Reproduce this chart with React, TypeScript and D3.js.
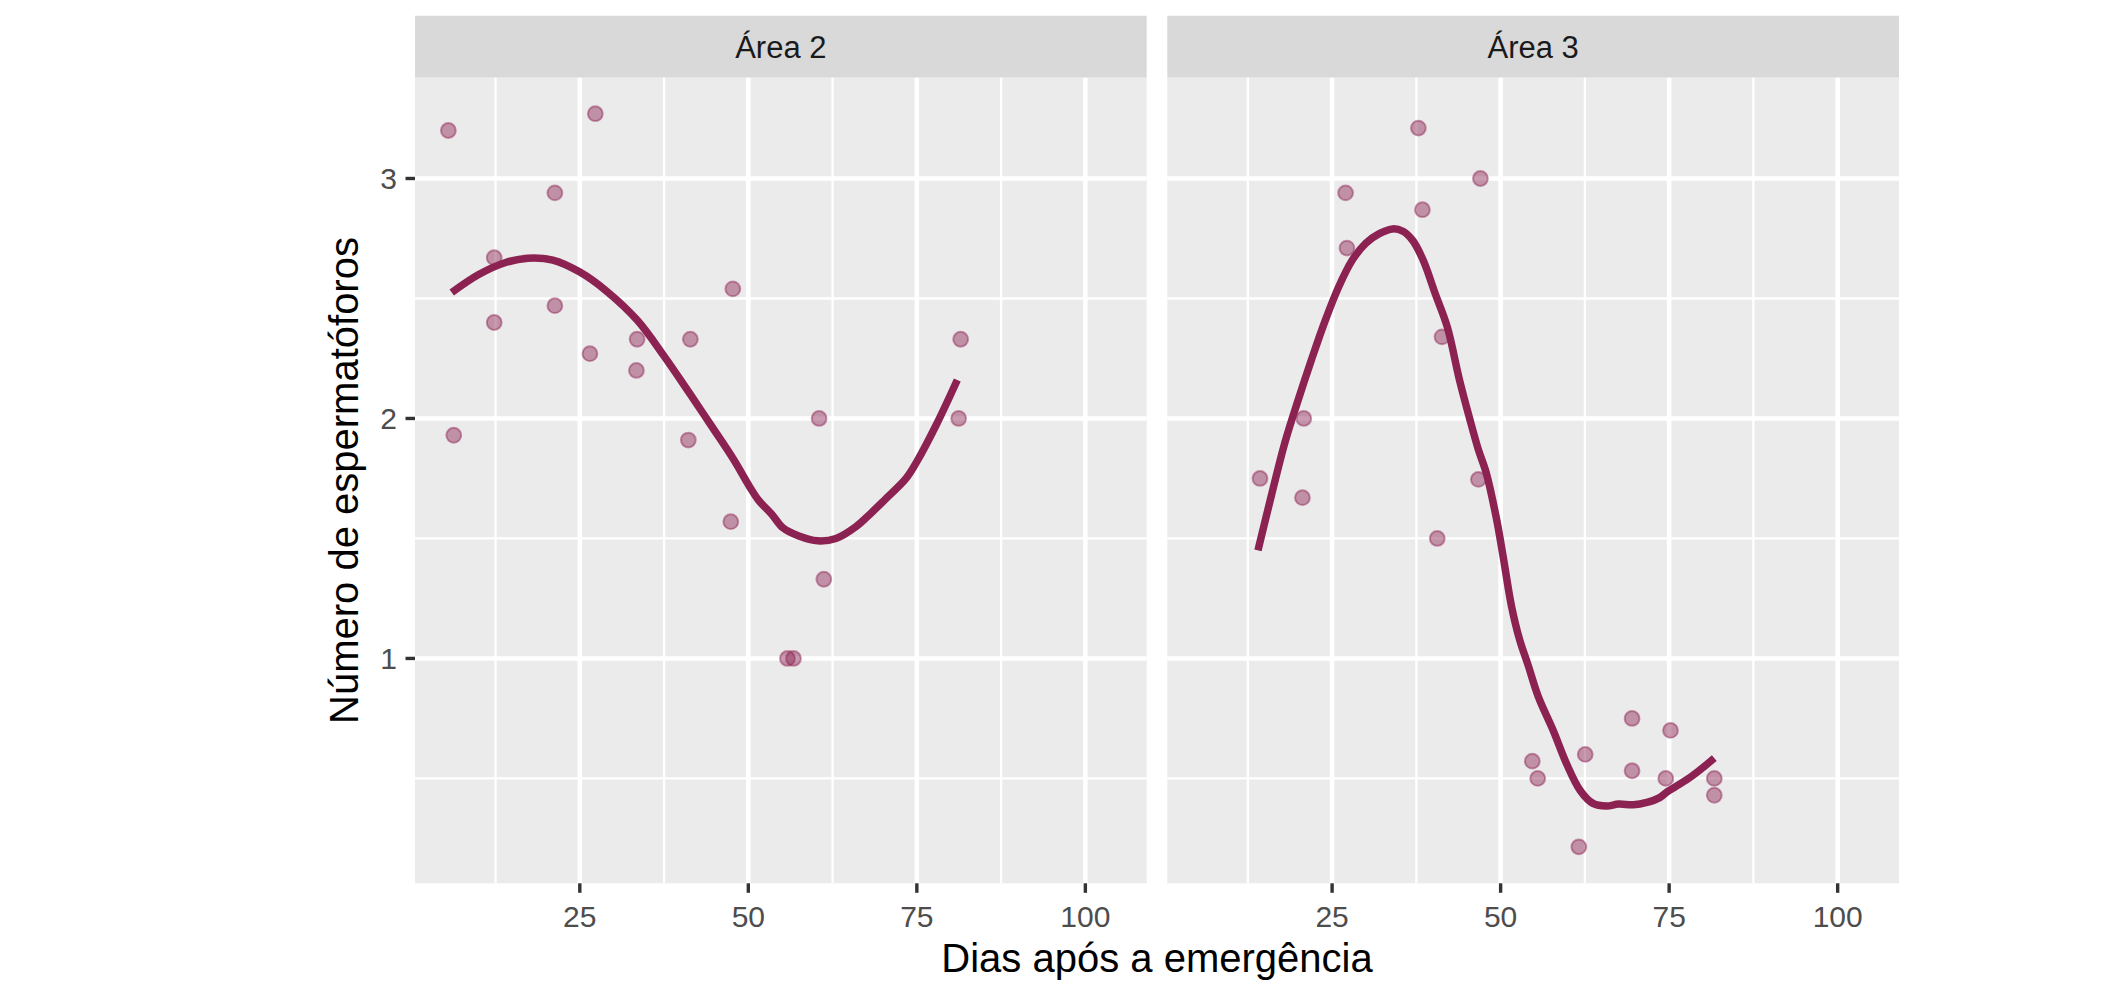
import React from 'react';
import * as d3 from 'd3';

// ---- data ----
const panelNames = ['Área 2', 'Área 3'];

const area2X = [5.5, 6.3, 12.3, 12.3, 21.3, 21.3, 27.3, 26.5, 33.5, 33.4, 41.4, 41.1, 47.7, 47.4, 55.8, 56.7, 60.5, 61.2, 81.5, 81.2];
const area2Y = [3.2, 1.93, 2.67, 2.4, 2.94, 2.47, 3.27, 2.27, 2.33, 2.2, 2.33, 1.91, 2.54, 1.57, 1.0, 1.0, 2.0, 1.33, 2.33, 2.0];

const area3X = [14.3, 20.8, 20.6, 27.0, 27.2, 37.8, 38.4, 47.0, 41.3, 40.6, 46.7, 54.7, 55.5, 62.55, 61.6, 69.5, 69.5, 75.2, 74.5, 81.7, 81.7];
const area3Y = [1.75, 2.0, 1.67, 2.94, 2.71, 3.21, 2.87, 3.0, 2.34, 1.5, 1.746, 0.572, 0.5, 0.6, 0.215, 0.75, 0.532, 0.7, 0.5, 0.5, 0.43];

const fit2X = [6.0, 10, 14, 17.3, 21, 25, 29, 33.5, 37.5, 41.4, 44.5, 47.8, 50.1, 51.5, 53.5, 55.1, 57.5, 60.3, 63, 66, 68, 70.2, 73.4, 75, 78, 81];
const fit2Y = [2.525, 2.6, 2.65, 2.668, 2.66, 2.61, 2.53, 2.41, 2.26, 2.1, 1.97, 1.83, 1.72, 1.66, 1.6, 1.545, 1.51, 1.49, 1.5, 1.55, 1.6, 1.66, 1.75, 1.82, 1.98, 2.16];

const fit3X = [14.0, 16, 18, 20, 22, 24, 26, 28, 30, 32, 34, 35.5, 37, 38.5, 40.3, 42.1, 43.9, 45.4, 46.7, 47.9, 49.4, 50.4, 51.6, 52.8, 54.1, 55.6, 57.8, 59.8, 61.8, 63.7, 65.7, 67.5, 69.7, 71.7, 73.6, 74.8, 76.5, 78.4, 80, 81.7];
const fit3Y = [1.45, 1.68, 1.9, 2.08, 2.25, 2.41, 2.55, 2.66, 2.73, 2.77, 2.79, 2.78, 2.74, 2.66, 2.52, 2.38, 2.16, 2.0, 1.87, 1.77, 1.58, 1.42, 1.22, 1.08, 0.97, 0.84, 0.7, 0.56, 0.45, 0.396, 0.385, 0.393, 0.39, 0.4, 0.42, 0.446, 0.475, 0.51, 0.545, 0.585];

const xTicks = [25, 50, 75, 100];
const xMinor = [12.5, 37.5, 62.5, 87.5];
const yTicks = [1, 2, 3];
const yMinor = [0.5, 1.5, 2.5];

const xTitle = 'Dias após a emergência';
const yTitle = 'Número de espermatóforos';

// ---- layout ----
const W = 2124;
const H = 988;
const stripTop = 15.7;
const panelTop = 77.7;
const panelBottom = 883.3;
const panelLefts = [415, 1167.3];
const panelWidth = 731.7;
const FONT = '"Liberation Sans", Arial, Helvetica, sans-serif';
const COLOR = '#8B2252';

const y = d3.scaleLinear().domain([0.063, 3.42]).range([panelBottom, panelTop]);

const seriesPts = [
  { xs: area2X, ys: area2Y, fx: fit2X, fy: fit2Y },
  { xs: area3X, ys: area3Y, fx: fit3X, fy: fit3Y },
];

function Panel({ idx }: { idx: number }) {
  const left = panelLefts[idx];
  const x = d3.scaleLinear().domain([0.55, 109.1]).range([left, left + panelWidth]);
  const s = seriesPts[idx];
  const fit = s.fx.map((v, i) => [v, s.fy[i]] as [number, number]);
  const line = d3
    .line<[number, number]>()
    .x((d) => x(d[0]))
    .y((d) => y(d[1]))
    .curve(d3.curveCatmullRom.alpha(0.5));
  return (
    <g>
      <rect x={left} y={stripTop} width={panelWidth} height={panelTop - stripTop} fill="#D9D9D9" />
      <text
        x={left + panelWidth / 2}
        y={(stripTop + panelTop) / 2 + 11}
        textAnchor="middle"
        fontSize={31}
        fill="#1A1A1A"
        fontFamily={FONT}
      >
        {panelNames[idx]}
      </text>
      <rect x={left} y={panelTop} width={panelWidth} height={panelBottom - panelTop} fill="#EBEBEB" />
      {yMinor.map((v) => (
        <line key={'ym' + v} x1={left} x2={left + panelWidth} y1={y(v)} y2={y(v)} stroke="#fff" strokeWidth={2.3} />
      ))}
      {xMinor.map((v) => (
        <line key={'xm' + v} x1={x(v)} x2={x(v)} y1={panelTop} y2={panelBottom} stroke="#fff" strokeWidth={2.3} />
      ))}
      {yTicks.map((v) => (
        <line key={'yM' + v} x1={left} x2={left + panelWidth} y1={y(v)} y2={y(v)} stroke="#fff" strokeWidth={4.6} />
      ))}
      {xTicks.map((v) => (
        <line key={'xM' + v} x1={x(v)} x2={x(v)} y1={panelTop} y2={panelBottom} stroke="#fff" strokeWidth={4.6} />
      ))}
      {s.xs.map((v, i) => (
        <circle
          key={'p' + i}
          cx={x(v)}
          cy={y(s.ys[i])}
          r={7.4}
          fill={COLOR}
          fillOpacity={0.45}
          stroke={COLOR}
          strokeOpacity={0.45}
          strokeWidth={2}
        />
      ))}
      <path d={line(fit) || ''} fill="none" stroke={COLOR} strokeWidth={7.5} strokeLinejoin="round" />
      {xTicks.map((v) => (
        <g key={'xt' + v}>
          <line x1={x(v)} x2={x(v)} y1={panelBottom} y2={panelBottom + 9.5} stroke="#333333" strokeWidth={3.4} />
          <text x={x(v)} y={927} textAnchor="middle" fontSize={30} fill="#4D4D4D" fontFamily={FONT}>
            {v}
          </text>
        </g>
      ))}
      {idx === 0 &&
        yTicks.map((v) => (
          <g key={'yt' + v}>
            <line x1={left - 9.5} x2={left} y1={y(v)} y2={y(v)} stroke="#333333" strokeWidth={3.4} />
            <text x={left - 18} y={y(v) + 10.7} textAnchor="end" fontSize={30} fill="#4D4D4D" fontFamily={FONT}>
              {v}
            </text>
          </g>
        ))}
    </g>
  );
}

export default function App() {
  const midX = (panelLefts[0] + panelLefts[1] + panelWidth) / 2;
  const midY = (panelTop + panelBottom) / 2;
  return (
    <div style={{ position: 'absolute', left: 0, top: 0 }}>
      <svg width={W} height={H} style={{ display: 'block', background: '#fff' }}>
        <rect x={0} y={0} width={W} height={H} fill="#fff" />
        <Panel idx={0} />
        <Panel idx={1} />
        <text x={midX} y={971.5} textAnchor="middle" fontSize={40} fill="#000" fontFamily={FONT}>
          {xTitle}
        </text>
        <text
          transform={`translate(358, ${midY}) rotate(-90)`}
          textAnchor="middle"
          fontSize={40}
          fill="#000"
          fontFamily={FONT}
        >
          {yTitle}
        </text>
      </svg>
    </div>
  );
}
